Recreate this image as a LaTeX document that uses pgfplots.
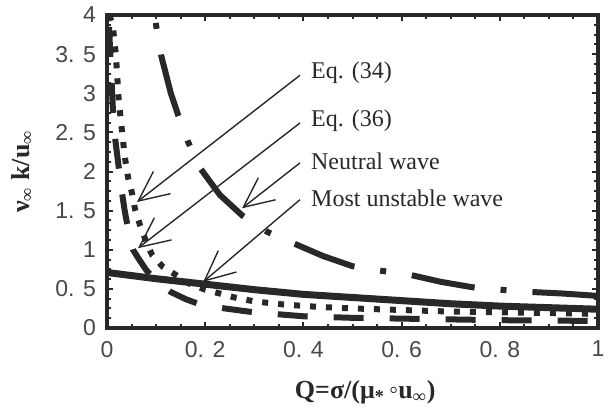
\documentclass[border=0pt]{standalone}
\usepackage{pgfplots}
\pgfplotsset{compat=1.18}
\usepackage{fontspec}
\setmainfont{Liberation Serif}
\newfontfamily\tickfont{Liberation Sans}
\usetikzlibrary{arrows.meta}
\definecolor{ink}{RGB}{40,40,40}
\begin{document}
\begin{tikzpicture}
\path[use as bounding box] (-53.5pt,-43pt) rectangle (253.5pt,164pt);
\begin{axis}[
  at={(0,0)}, anchor=south west,
  scale only axis, width=245.5pt, height=156.5pt,
  xmin=0, xmax=1, ymin=0, ymax=4,
  axis line style={line width=1.6pt, ink},
  xtick={0,0.2,0.4,0.6,0.8,1},
  xticklabels={0,0. 2,0. 4,0. 6,0. 8,1},
  ytick={0,0.5,1,1.5,2,2.5,3,3.5,4},
  yticklabels={0,0. 5,1,1. 5,2,2. 5,3,3. 5,4},
  minor x tick num=3, minor y tick num=3,
  tick align=inside, tick pos=both,
  major tick length=3pt, minor tick length=1.8pt,
  tick style={line width=1pt, ink},
  tick label style={font=\tickfont\fontsize{11.5}{11.5}\selectfont, text=ink!85},
  xticklabel style={yshift=-3pt},
  yticklabel style={xshift=-2pt},
  xlabel={\bfseries Q=σ/(μ\textsubscript{*}\,◦u\textsubscript{∞})},
  ylabel={\bfseries ν\textsubscript{∞} k/u\textsubscript{∞}},
  label style={font=\fontsize{13}{13}\selectfont, text=ink},
  x label style={at={(axis description cs:0.526,-0.205)}, anchor=center},
  y label style={at={(axis description cs:-0.173,0.5)}, anchor=center},
]
% dash-dot curve
\addplot[ink, line width=3pt, line cap=butt, dash pattern=on 3pt off 13pt on 32pt off 13pt, dash phase=57pt] coordinates {
(0.097,4.0)(0.1,3.87)(0.11,3.49)(0.13,3.0)(0.145,2.72)(0.165,2.38)(0.19,2.04)(0.23,1.7)(0.275,1.44)(0.326,1.23)(0.377,1.09)(0.44,0.92)(0.5,0.79)(0.56,0.73)(0.617,0.68)(0.68,0.59)(0.745,0.52)(0.8,0.49)(0.866,0.46)(0.93,0.44)(1.0,0.41)};
% dotted curve
\addplot[ink, line width=3pt, line cap=butt, dash pattern=on 3pt off 5pt] coordinates {
(0.005,4.0)(0.012,3.85)(0.018,3.5)(0.021,3.2)(0.024,2.9)(0.03,2.55)(0.036,2.2)(0.043,1.92)(0.05,1.75)(0.057,1.52)(0.067,1.32)(0.08,1.1)(0.092,0.93)(0.114,0.78)(0.14,0.68)(0.17,0.56)(0.2,0.49)(0.26,0.39)(0.3,0.34)(0.36,0.30)(0.43,0.27)(0.5,0.25)(0.6,0.23)(0.7,0.21)(0.8,0.2)(0.9,0.19)(1.0,0.18)};
% dashed curve
\addplot[ink, line width=3pt, line cap=butt, dash pattern=on 15pt off 13pt, dash phase=22pt] coordinates {
(0.003,4.0)(0.006,3.6)(0.009,3.2)(0.012,2.8)(0.017,2.4)(0.024,2.05)(0.03,1.75)(0.036,1.5)(0.042,1.3)(0.048,1.1)(0.053,1.0)(0.065,0.88)(0.08,0.74)(0.1,0.6)(0.13,0.46)(0.16,0.37)(0.19,0.3)(0.24,0.25)(0.3,0.2)(0.4,0.15)(0.5,0.13)(0.6,0.12)(0.8,0.1)(1.0,0.09)};
% solid curve
\addplot[ink, line width=3.5pt] coordinates {
(0,0.71)(0.1,0.63)(0.2,0.56)(0.3,0.49)(0.4,0.43)(0.5,0.39)(0.6,0.35)(0.7,0.31)(0.8,0.28)(0.9,0.26)(1.0,0.24)};
% annotations
\begin{scope}[ink, line width=0.7pt, -{Straight Barb[length=15pt,width=14pt,line width=0.7pt]}]
\draw (axis cs:0.393,3.23) -- (axis cs:0.061,1.61);
\draw (axis cs:0.393,2.62) -- (axis cs:0.063,1.02);
\draw (axis cs:0.393,2.11) -- (axis cs:0.275,1.53);
\draw (axis cs:0.393,1.64) -- (axis cs:0.196,0.59);
\end{scope}
\begin{scope}[every node/.style={anchor=west, inner sep=0pt, font=\fontsize{12}{12}\selectfont, text=ink}]
\node at (axis cs:0.415,3.26) {Eq. (34)};
\node at (axis cs:0.415,2.65) {Eq. (36)};
\node at (axis cs:0.415,2.13) {Neutral wave};
\node at (axis cs:0.415,1.66) {Most unstable wave};
\end{scope}
\end{axis}
\end{tikzpicture}
\end{document}
